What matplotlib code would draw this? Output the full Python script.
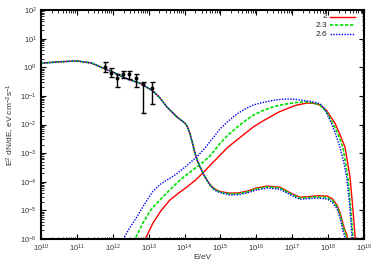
"""Spectrum plot: E^2 dN/dE for three spectral indices, with data points."""

import matplotlib

matplotlib.use("Agg")
import matplotlib.pyplot as plt  # noqa: E402
import numpy as np  # noqa: E402
from matplotlib.ticker import LogLocator, LogFormatterSciNotation, NullFormatter  # noqa: E402

# ---- data (log10 E/eV, log10 E^2 dN/dE) ----
indices = ["2", "2.3", "2.6"]
colors = ["#ff0000", "#00e000", "#0000ff"]

# low-energy component (nearly the same for the three indices)
low_logE = [10.0, 10.5, 11.0, 11.4, 11.73, 12.0, 12.28, 12.5, 12.76, 13.12, 13.3,
            13.51, 13.79, 14.01, 14.08, 14.15, 14.22, 14.29, 14.36, 14.43, 14.52,
            14.62, 14.7, 14.79, 14.88, 14.99, 15.26, 15.5, 15.74, 16.0, 16.3, 16.66,
            16.95, 17.21, 17.45, 17.69, 17.97, 18.12, 18.25, 18.34, 18.41, 18.47,
            18.52, 18.57]
low_red = [0.14, 0.19, 0.22, 0.15, -0.03, -0.16, -0.34, -0.45, -0.56, -0.83, -1.05,
           -1.39, -1.74, -1.95, -2.08, -2.32, -2.65, -3.0, -3.27, -3.48, -3.72,
           -3.94, -4.08, -4.2, -4.28, -4.34, -4.40, -4.39, -4.33, -4.22, -4.15, -4.19,
           -4.39, -4.54, -4.52, -4.49, -4.50, -4.6, -4.82, -5.1, -5.45, -5.7,
           -5.85, -6.1]
low_green = [0.14, 0.19, 0.22, 0.15, -0.03, -0.16, -0.34, -0.45, -0.56, -0.83, -1.05,
             -1.39, -1.74, -1.95, -2.08, -2.32, -2.65, -3.0, -3.27, -3.48, -3.72,
             -3.94, -4.09, -4.22, -4.3, -4.36, -4.43, -4.42, -4.36, -4.25, -4.18,
             -4.22, -4.42, -4.57, -4.55, -4.53, -4.55, -4.66, -4.88, -5.18, -5.55,
             -5.8, -5.95, -6.2]
low_blue = [0.14, 0.19, 0.22, 0.15, -0.03, -0.16, -0.34, -0.45, -0.56, -0.83, -1.05,
            -1.39, -1.74, -1.95, -2.08, -2.32, -2.65, -3.0, -3.27, -3.48, -3.72,
            -3.94, -4.1, -4.24, -4.32, -4.38, -4.46, -4.45, -4.39, -4.29, -4.22,
            -4.26, -4.46, -4.61, -4.59, -4.57, -4.60, -4.72, -4.95, -5.3, -5.7,
            -5.95, -6.1, -6.3]

# high-energy component
red_logE = [12.87, 13.12, 13.35, 13.59, 13.83, 14.07, 14.3, 14.51, 14.75, 14.99,
            15.2, 15.46, 15.7, 15.91, 16.15, 16.38, 16.6, 16.85, 17.1, 17.41, 17.6,
            17.77, 17.95, 18.19, 18.33, 18.47, 18.61, 18.68, 18.75, 18.78]
red_val = [-6.1, -5.44, -5.0, -4.64, -4.4, -4.18, -3.95, -3.69, -3.38, -3.07,
           -2.8, -2.54, -2.3, -2.09, -1.9, -1.74, -1.58, -1.45, -1.33, -1.25, -1.26,
           -1.32, -1.5, -1.95, -2.35, -2.79, -3.83, -4.8, -5.9, -6.3]
green_logE = [12.58, 12.84, 13.05, 13.31, 13.55, 13.79, 14.0, 14.23, 14.45, 14.71,
              14.85, 14.99, 15.2, 15.46, 15.7, 15.91, 16.15, 16.38, 16.6, 16.85,
              17.1, 17.41, 17.6, 17.77, 17.95, 18.13, 18.28, 18.41, 18.55, 18.62,
              18.69, 18.72]
green_val = [-6.1, -5.44, -5.0, -4.64, -4.33, -4.04, -3.81, -3.59, -3.38, -3.1,
             -2.88, -2.66, -2.38, -2.1, -1.86, -1.68, -1.53, -1.42, -1.34, -1.28,
             -1.23, -1.21, -1.25, -1.32, -1.55, -1.95, -2.35, -2.79, -3.83, -4.8,
             -5.9, -6.3]
blue_logE = [12.25, 12.45, 12.67, 12.9, 13.12, 13.31, 13.51, 13.75, 13.96, 14.15,
             14.35, 14.55, 14.71, 14.85, 14.99, 15.2, 15.46, 15.7, 15.91, 16.15,
             16.38, 16.6, 16.85, 17.1, 17.3, 17.55, 17.77, 17.9, 18.05, 18.2, 18.33,
             18.45, 18.52, 18.6, 18.66, 18.7]
blue_val = [-6.1, -5.65, -5.23, -4.75, -4.33, -4.1, -3.94, -3.75, -3.54, -3.34,
            -3.12, -2.85, -2.6, -2.38, -2.15, -1.9, -1.63, -1.45, -1.32, -1.24, -1.18,
            -1.13, -1.11, -1.12, -1.16, -1.2, -1.27, -1.45, -1.84, -2.3, -2.79, -3.4,
            -3.87, -4.8, -5.8, -6.3]

# measured points
pts_logE = [11.79, 11.95, 12.13, 12.29, 12.45, 12.64, 12.83, 13.08]
pts_val = [0.02, -0.19, -0.38, -0.24, -0.24, -0.36, -0.59, -0.72]
pts_hi = [0.19, -0.04, -0.22, -0.13, -0.13, -0.22, -0.53, -0.50]
pts_lo = [-0.16, -0.33, -0.68, -0.39, -0.41, -0.68, -1.61, -1.29]


def p10(a):
    return 10.0 ** np.asarray(a)


def main() -> None:
    plt.rcParams["font.family"] = ["Liberation Sans", "DejaVu Sans"]
    plt.rcParams["mathtext.default"] = "regular"

    fig = plt.figure(figsize=(3.82, 2.67), dpi=100)
    ax = fig.add_axes([41 / 382, 28 / 267, 323 / 382, 229 / 267])

    styles = [dict(ls="-", lw=1.0),
              dict(ls=(0, (2, 1)), lw=1.2),
              dict(ls=(0, (1, 1)), lw=1.0)]
    lows = [low_red, low_green, low_blue]
    highs = [(red_logE, red_val), (green_logE, green_val), (blue_logE, blue_val)]

    for col, st, lo, (hx, hy) in zip(colors, styles, lows, highs):
        ax.plot(p10(low_logE), p10(lo), color=col, **st)
        ax.plot(p10(hx), p10(hy), color=col, **st)

    y = p10(pts_val)
    yerr = [y - p10(pts_lo), p10(pts_hi) - y]
    ax.errorbar(p10(pts_logE), y, yerr=yerr, fmt="o", ms=1.8, color="black",
                ecolor="black", elinewidth=1.0, capsize=1.8, capthick=1.0, zorder=5)

    ax.set_xscale("log")
    ax.set_yscale("log")
    ax.set_xlim(1e10, 1e19)
    ax.set_ylim(1e-6, 1e2)

    for a in (ax.xaxis, ax.yaxis):
        a.set_major_locator(LogLocator(base=10, numticks=20))
        a.set_minor_locator(LogLocator(base=10, subs=np.arange(2, 10), numticks=20))
        a.set_major_formatter(LogFormatterSciNotation())
        a.set_minor_formatter(NullFormatter())
    ax.tick_params(which="both", direction="in", top=True, right=True,
                   colors="black", labelsize=5.5, labelcolor="#333333")
    ax.tick_params(which="major", length=3.5, width=0.8, pad=3)
    ax.tick_params(which="minor", length=1.8, width=0.6)
    for sp in ax.spines.values():
        sp.set_linewidth(1.5)

    ax.set_xlabel("E/eV", fontsize=6, color="#333333", labelpad=0)
    ax.set_ylabel("E$^2$ dN/dE, eV cm$^{-2}$s$^{-1}$", fontsize=6,
                  color="#333333", labelpad=2)

    # gnuplot-style key: right-aligned label, then a line sample
    key_x0, key_x1, key_text = 289 / 323, 314 / 323, 286 / 323
    for i, (lab, col, st) in enumerate(zip(indices, colors, styles)):
        ky = 1 - (6.7 + 8.7 * i) / 229
        ax.plot([key_x0, key_x1], [ky, ky], transform=ax.transAxes, color=col, **st)
        ax.text(key_text, ky, lab, transform=ax.transAxes, ha="right", va="center",
                fontsize=6, color="#222222", zorder=6)

    fig.savefig("out.png", dpi=100)
    plt.close(fig)


if __name__ == "__main__":
    main()
